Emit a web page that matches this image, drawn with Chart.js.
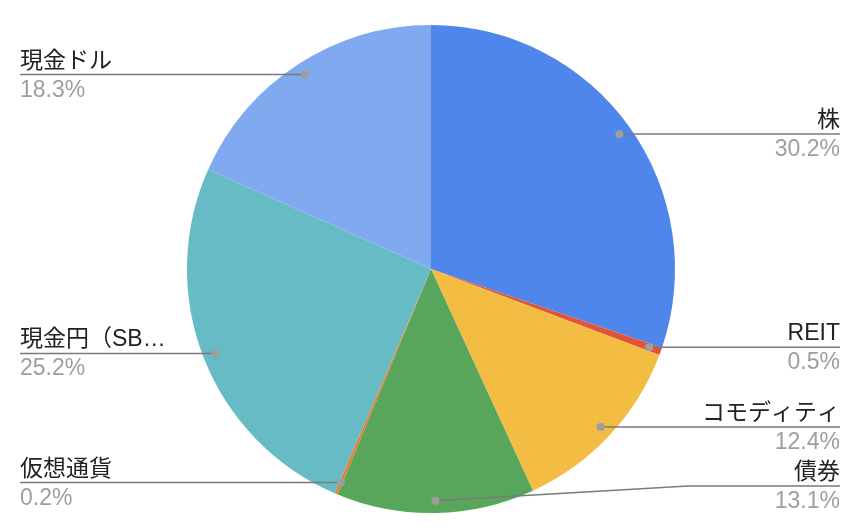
<!DOCTYPE html>
<html>
<head>
<meta charset="utf-8">
<script src="https://cdn.jsdelivr.net/npm/chart.js@4"></script>
<style>
  body { margin: 0; background: #fff; }
  #wrap { width: 860px; height: 530px; }
</style>
</head>
<body>
<div id="wrap"><canvas id="pieChart" width="860" height="530"></canvas></div>
<script>
// 資産配分データ
const labels = ['株', 'REIT', 'コモディティ', '債券', '仮想通貨', '現金円（SB…', '現金ドル'];
const shares = [30.2, 0.5, 12.4, 13.1, 0.2, 25.2, 18.3];
const valueLabels = ['30.2%', '0.5%', '12.4%', '13.1%', '0.2%', '25.2%', '18.3%'];
const colors = ['#4f86ec', '#e0553a', '#f2bd42', '#58a55c', '#f07a2e', '#66bbc4', '#80a9f0'];

const FONT = '"Liberation Sans", Arial, "Noto Sans CJK JP", sans-serif';

// 引き出し線とラベル
const leaderLabels = {
    id: 'leaderLabels',
    afterDatasetsDraw(chart) {
        const ctx = chart.ctx;
        const meta = chart.getDatasetMeta(0);
        const W = chart.width;
        const maxY = chart.height - 44;
        ctx.save();
        meta.data.forEach((arc, i) => {
            const p = arc.getProps(['x', 'y', 'startAngle', 'endAngle', 'outerRadius'], true);
            const mid = (p.startAngle + p.endAngle) / 2;
            const dx = p.x + Math.cos(mid) * p.outerRadius * 0.95;
            const dy = p.y + Math.sin(mid) * p.outerRadius * 0.95;
            const right = dx > p.x;
            const ly = Math.min(dy, maxY);

            ctx.strokeStyle = '#7a7a7a';
            ctx.lineWidth = 1.5;
            ctx.beginPath();
            ctx.moveTo(dx, dy);
            if (ly !== dy) {
                const bx = right ? W * 0.8 : W * 0.2;
                ctx.lineTo(bx, ly);
            }
            ctx.lineTo(right ? W - 20 : 20, ly);
            ctx.stroke();

            ctx.fillStyle = '#9e9e9e';
            ctx.beginPath();
            ctx.arc(dx, dy, 4, 0, Math.PI * 2);
            ctx.fill();

            ctx.textAlign = right ? 'right' : 'left';
            ctx.textBaseline = 'alphabetic';
            const tx = right ? W - 20 : 20;
            ctx.font = '23px ' + FONT;
            ctx.fillStyle = '#222222';
            ctx.fillText(labels[i], tx, ly - 7);
            ctx.fillStyle = '#9e9e9e';
            ctx.fillText(valueLabels[i], tx, ly + 22);
        });
        ctx.restore();
    }
};

new Chart(document.getElementById('pieChart'), {
    type: 'pie',
    data: {
        labels: labels,
        datasets: [{
            data: shares,
            backgroundColor: colors,
            borderWidth: 0,
            hoverOffset: 0,
            offset: 0
        }]
    },
    options: {
        responsive: false,
        animation: false,
        layout: { padding: { top: 25, bottom: 17, left: 2, right: 0 } },
        plugins: {
            legend: { display: false },
            tooltip: { enabled: false }
        }
    },
    plugins: [leaderLabels]
});
</script>
</body>
</html>
